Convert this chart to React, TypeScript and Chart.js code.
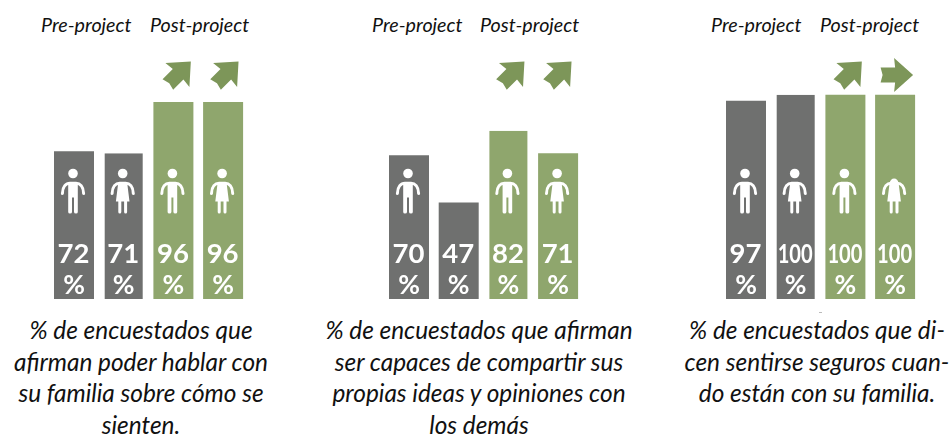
import React, { useEffect, useRef } from 'react';
import { Chart, registerables } from 'chart.js';

Chart.register(...registerables);

const categories = ['Pre-project (niños)', 'Pre-project (niñas)', 'Post-project (niños)', 'Post-project (niñas)'];
const talkValues = [72, 71, 96, 96];
const shareValues = [70, 47, 82, 71];
const safeValues = [97, 100, 100, 100];
const talkIcons = ['m', 'f', 'm', 'f'];
const shareIcons = ['m', null, 'm', 'f'];
const safeIcons = ['m', 'f', 'm', 'h'];
const talkArrows = [null, null, -45, -45];
const shareArrows = [null, null, -45, -45];
const safeArrows = [null, null, -45, 0];
const talkCaption = ['% de encuestados que', 'afirman poder hablar con', 'su familia sobre cómo se', 'sienten.'];
const shareCaption = ['% de encuestados que afirman', 'ser capaces de compartir sus', 'propias ideas y opiniones con', 'los demás'];
const safeCaption = ['% de encuestados que di-', 'cen sentirse seguros cuan-', 'do están con su familia.'];
const preLabel = 'Pre-project';
const postLabel = 'Post-project';

const GREY = '#6f706f';
const GREEN = '#8fa66d';
const ARROW = '#7d9659';
const CAPTION_FONT = 'Lato, sans-serif';

const panels = [
  { values: talkValues, icons: talkIcons, arrows: talkArrows, narrow: [1], left: 21, width: 249, first: 74, step: 49.7, arrowDx: [0, 0, 4, 2], unit: 2.045, caption: talkCaption, captionX: 141, preX: 41, postX: 150 },
  { values: shareValues, icons: shareIcons, arrows: shareArrows, narrow: [2], left: 360, width: 238, first: 409, step: 49.7, arrowDx: [0, 0, 2.6, 0], unit: 2.045, caption: shareCaption, captionX: 479, preX: 372, postX: 480 },
  { values: safeValues, icons: safeIcons, arrows: safeArrows, narrow: [1], left: 687, width: 264, first: 746, step: 49.7, arrowDx: [0, 0, 3, -1], unit: 2.035, caption: safeCaption, captionX: 817, preX: 711, postX: 820 },
];

const TOP = 50;
const BASE = 298;

function person(ctx: CanvasRenderingContext2D, x: number, y: number, kind: string) {
  ctx.save();
  ctx.translate(x, y);
  ctx.fillStyle = '#fff';
  ctx.strokeStyle = '#fff';
  if (kind !== 'h') {
    ctx.beginPath();
    ctx.arc(0, 0, 4.8, 0, Math.PI * 2);
    ctx.fill();
  }
  ctx.lineWidth = 3;
  ctx.lineCap = 'round';
  ctx.beginPath();
  ctx.moveTo(-10.6, 20);
  ctx.bezierCurveTo(-10.4, 13, -7, 9.8, -3, 9.8);
  ctx.lineTo(3, 9.8);
  ctx.bezierCurveTo(7, 9.8, 10.4, 13, 10.6, 20);
  ctx.stroke();
  ctx.beginPath();
  if (kind === 'm') {
    ctx.moveTo(-4.8, 9.5);
    ctx.lineTo(4.8, 9.5);
    ctx.lineTo(4.8, 38.5);
    ctx.quadraticCurveTo(4.8, 40, 3, 40);
    ctx.quadraticCurveTo(1, 40, 1, 38.5);
    ctx.lineTo(1, 24);
    ctx.lineTo(-1, 24);
    ctx.lineTo(-1, 38.5);
    ctx.quadraticCurveTo(-1, 40, -3, 40);
    ctx.quadraticCurveTo(-4.8, 40, -4.8, 38.5);
    ctx.closePath();
    ctx.fill();
  } else {
    if (kind === 'h') {
      ctx.moveTo(-4.5, 9.5);
      ctx.quadraticCurveTo(-3.5, 5, 0, 5);
      ctx.quadraticCurveTo(3.5, 5, 4.5, 9.5);
    } else {
      ctx.moveTo(-4.5, 9.5);
      ctx.lineTo(4.5, 9.5);
    }
    ctx.lineTo(6.8, 28);
    ctx.lineTo(4.4, 28);
    ctx.lineTo(4.4, 38.5);
    ctx.quadraticCurveTo(4.4, 40, 2.9, 40);
    ctx.quadraticCurveTo(1.4, 40, 1.4, 38.5);
    ctx.lineTo(1.4, 28);
    ctx.lineTo(-1.4, 28);
    ctx.lineTo(-1.4, 38.5);
    ctx.quadraticCurveTo(-1.4, 40, -2.9, 40);
    ctx.quadraticCurveTo(-4.4, 40, -4.4, 38.5);
    ctx.lineTo(-4.4, 28);
    ctx.lineTo(-6.8, 28);
    ctx.closePath();
    ctx.fill();
  }
  ctx.restore();
}

function arrow(ctx: CanvasRenderingContext2D, x: number, y: number, deg: number) {
  ctx.save();
  ctx.translate(x, y);
  ctx.rotate((deg * Math.PI) / 180);
  ctx.fillStyle = ARROW;
  ctx.beginPath();
  ctx.moveTo(19, 0);
  ctx.lineTo(0, -17);
  ctx.lineTo(1, -7.5);
  ctx.lineTo(-13.5, -7.5);
  ctx.lineTo(-11.5, 0);
  ctx.lineTo(-13.5, 7.5);
  ctx.lineTo(1, 7.5);
  ctx.lineTo(0, 17);
  ctx.closePath();
  ctx.fill();
  ctx.restore();
}

const marksPlugin = {
  id: 'marks',
  afterDatasetsDraw(chart: any) {
    const cfg = chart.options.plugins.marks.panel;
    const ctx: CanvasRenderingContext2D = chart.ctx;
    const meta = chart.getDatasetMeta(0);
    const y0 = chart.scales.y.getPixelForValue(0);
    meta.data.forEach((bar: any, i: number) => {
      const x = bar.x;
      const kind = cfg.icons[i];
      if (kind) person(ctx, x - 1, y0 - 125.5, kind);
      ctx.save();
      ctx.fillStyle = '#fff';
      ctx.textAlign = 'center';
      ctx.textBaseline = 'alphabetic';
      ctx.font = 'bold 27.5px Lato, sans-serif';
      ctx.fillText(String(cfg.values[i]), x - 0.5, y0 - 36, 35);
      ctx.font = 'bold 26.5px Lato, sans-serif';
      ctx.fillText('%', x, y0 - 5);
      ctx.restore();
      const deg = cfg.arrows[i];
      if (deg !== null) arrow(ctx, x + cfg.arrowDx[i], 75 - TOP, deg);
    });
  },
};

function Panel({ panel }: { panel: (typeof panels)[number] }) {
  const ref = useRef<HTMLCanvasElement>(null);
  useEffect(() => {
    const chart = new Chart(ref.current as HTMLCanvasElement, {
      type: 'bar',
      plugins: [marksPlugin],
      data: {
        datasets: [
          {
            label: '%',
            data: panel.values.map((v, i) => ({ x: i + 1, y: v, name: categories[i] })),
            backgroundColor: panel.values.map((_, i) => (i < 2 ? GREY : GREEN)),
            borderColor: '#fff',
            borderWidth: panel.values.map((_, i) => (panel.narrow.includes(i) ? { left: 1, right: 1, top: 0, bottom: 0 } : 0)),
            borderSkipped: false,
            inflateAmount: 0,
            barThickness: 40,
          } as any,
        ],
      },
      options: {
        responsive: false,
        animation: false,
        layout: { padding: 0 },
        plugins: { legend: { display: false }, tooltip: { enabled: false }, marks: { panel } } as any,
        scales: {
          x: {
            type: 'linear',
            offset: false,
            min: 1 - (panel.first - panel.left) / panel.step,
            max: 1 + (panel.left + panel.width - panel.first) / panel.step,
            grid: { display: false, drawTicks: false },
            border: { display: true, color: '#d9d9d9', width: 1 },
            ticks: { display: false },
          },
          y: { display: false, min: 0, max: (BASE - TOP) / panel.unit },
        },
      },
    });
    return () => chart.destroy();
  }, [panel]);
  return (
    <canvas
      ref={ref}
      width={panel.width}
      height={BASE - TOP + 1}
      style={{ position: 'absolute', left: panel.left, top: TOP, display: 'block' }}
    />
  );
}

const headStyle: React.CSSProperties = {
  position: 'absolute',
  top: 13,
  fontFamily: CAPTION_FONT,
  fontStyle: 'italic',
  fontSize: 19.7,
  lineHeight: '24px',
  color: '#111',
  whiteSpace: 'nowrap',
};

export default function App() {
  return (
    <div style={{ position: 'absolute', left: 0, top: 0, width: 951, height: 438, overflow: 'hidden', background: '#fff' }}>
      {panels.map((p, n) => (
        <React.Fragment key={n}>
          <div style={{ ...headStyle, left: p.preX }}>{preLabel}</div>
          <div style={{ ...headStyle, left: p.postX }}>{postLabel}</div>
          <Panel panel={p} />
          <div
            style={{
              position: 'absolute',
              left: p.captionX - 170,
              width: 340,
              top: 314,
              textAlign: 'center',
              fontFamily: CAPTION_FONT,
              fontStyle: 'italic',
              fontSize: 24.4,
              lineHeight: '31.5px',
              color: '#111',
              whiteSpace: 'nowrap',
            }}
          >
            {p.caption.map((line, i) => (
              <div key={i}>{line}</div>
            ))}
          </div>
        </React.Fragment>
      ))}
      <div style={{ position: 'absolute', left: 819, top: 312, width: 3, height: 1, background: '#bbb' }} />
    </div>
  );
}
